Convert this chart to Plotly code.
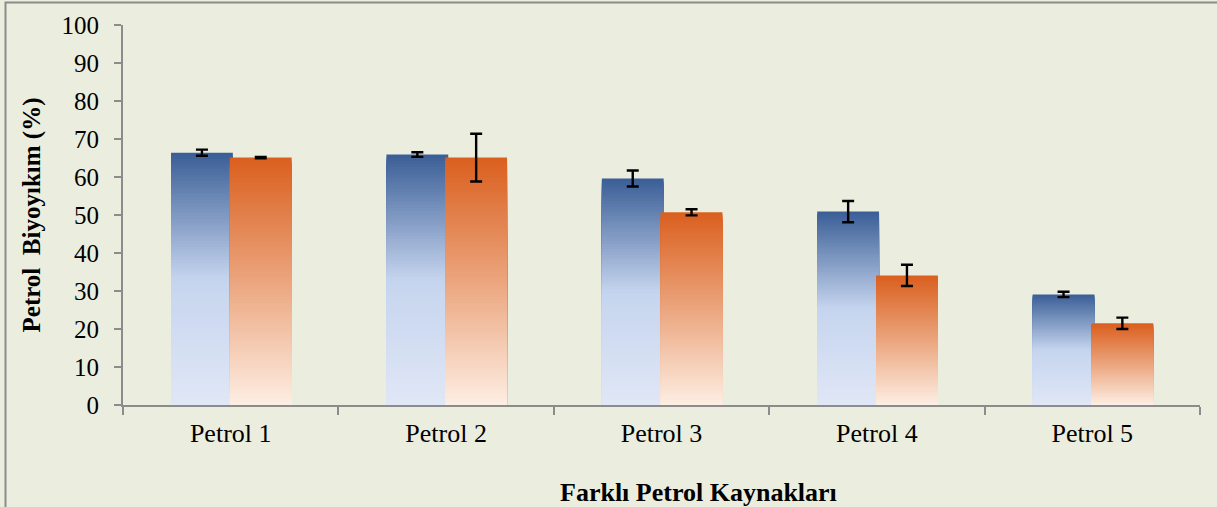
import plotly.graph_objects as go

# Data: biodegradation (%) per petroleum source, two series with error margins
categories = ["Petrol 1", "Petrol 2", "Petrol 3", "Petrol 4", "Petrol 5"]
series_a = [66.4, 65.9, 59.6, 50.9, 29.1]
series_a_err = [0.8, 0.6, 2.1, 2.8, 0.7]
series_b = [65.1, 65.1, 50.7, 34.1, 21.5]
series_b_err = [0.2, 6.3, 0.8, 2.8, 1.5]
y_ticks = [0, 10, 20, 30, 40, 50, 60, 70, 80, 90, 100]

BG = "#EBEEDF"
AXIS = "#8C8C8C"
FONT = "Liberation Serif, Times New Roman, serif"
N_STEPS = 80
BAR_W = 0.287


def hex_rgb(h):
    h = h.lstrip("#")
    return tuple(int(h[i:i + 2], 16) for i in (0, 2, 4))


def gradient(stops, t):
    """Colour at fraction t (0 = bar bottom, 1 = bar top) along piecewise stops."""
    for (t0, c0), (t1, c1) in zip(stops, stops[1:]):
        if t0 <= t <= t1:
            u = (t - t0) / (t1 - t0) if t1 > t0 else 0
            a, b = hex_rgb(c0), hex_rgb(c1)
            return "rgb(%d,%d,%d)" % tuple(round(a[i] + (b[i] - a[i]) * u) for i in range(3))
    return stops[-1][1]


blue_stops = [(0.0, "#E0E7F6"), (0.5, "#C5D4EE"), (1.0, "#3A5E96")]
orange_stops = [(0.0, "#FDEEE3"), (0.5, "#EBA57E"), (1.0, "#DA5F1E")]

fig = go.Figure()


def add_gradient_bars(values, offset, stops):
    # Full-height darkest bar first, then progressively shorter, lighter bars on top
    for k in range(N_STEPS):
        frac = (N_STEPS - k) / N_STEPS
        mid = (N_STEPS - k - 0.5) / N_STEPS
        fig.add_trace(go.Bar(
            x=categories, y=[v * frac for v in values], base=0,
            width=BAR_W, offset=offset,
            marker=dict(color=gradient(stops, mid), line=dict(width=0)),
            hoverinfo="skip", showlegend=False,
        ))


add_gradient_bars(series_a, -0.277, blue_stops)
add_gradient_bars(series_b, -0.004, orange_stops)

# Transparent bars carrying the error bars, drawn last so they sit on top
for vals, errs, off in ((series_a, series_a_err, -0.277), (series_b, series_b_err, -0.004)):
    fig.add_trace(go.Bar(
        x=categories, y=vals, width=BAR_W, offset=off,
        marker=dict(color="rgba(0,0,0,0)", line=dict(width=0)),
        error_y=dict(type="data", array=errs, visible=True,
                     color="black", thickness=2.4, width=6),
        showlegend=False,
    ))

fig.update_layout(
    barmode="overlay",
    width=1217, height=507,
    margin=dict(l=123, r=17, t=25, b=102),
    paper_bgcolor=BG, plot_bgcolor=BG,
    font=dict(family=FONT, color="black"),
    showlegend=False,
    shapes=[dict(type="rect", xref="paper", yref="paper",
                 x0=-0.1091, x1=1.2, y0=-0.4, y1=1.059,
                 line=dict(color=AXIS, width=2), fillcolor="rgba(0,0,0,0)", layer="below")],
    annotations=[dict(text="<b>Farklı Petrol Kaynakları</b>", xref="paper", yref="paper",
                      x=0.534, y=-0.229, xanchor="center", yanchor="middle",
                      showarrow=False, font=dict(size=26, family=FONT, color="black"))],
)

fig.update_xaxes(
    type="category", range=[-0.5, 4.5], automargin=False,
    tickson="boundaries", ticks="outside", ticklen=8, tickwidth=2, tickcolor=AXIS,
    showline=True, linecolor=AXIS, linewidth=2, showgrid=False, zeroline=False,
    tickfont=dict(size=26, family=FONT), ticklabelstandoff=4,
)

fig.update_yaxes(
    range=[0, 100], tickvals=y_ticks, automargin=False,
    ticks="outside", ticklen=7, tickwidth=2, tickcolor=AXIS,
    showline=True, linecolor=AXIS, linewidth=2, showgrid=False, zeroline=False,
    tickfont=dict(size=25, family=FONT), ticklabelstandoff=10,
    title=dict(text="<b>Petrol  Biyoyıkım (%)</b>", font=dict(size=25, family=FONT), standoff=14),
)

fig.write_html("out.html")
